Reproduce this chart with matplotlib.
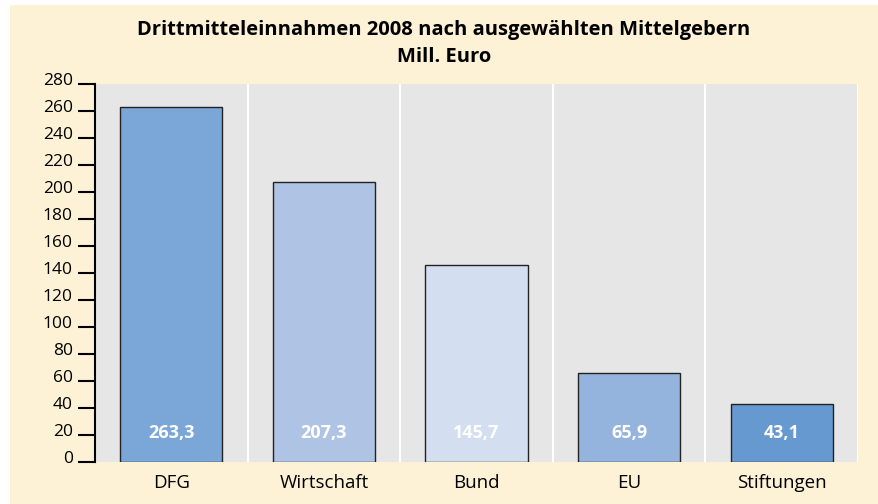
import matplotlib
matplotlib.use("Agg")
import matplotlib.pyplot as plt
import matplotlib.transforms as mtransforms
from matplotlib.patches import Rectangle

categories = ["DFG", "Wirtschaft", "Bund", "EU", "Stiftungen"]
values = [263.3, 207.3, 145.7, 65.9, 43.1]
value_labels = ["263,3", "207,3", "145,7", "65,9", "43,1"]
bar_colors = ["#7BA6D8", "#AFC4E5", "#D3DFF1", "#95B4DD", "#6699D0"]
yticks = list(range(0, 281, 20))

plt.rcParams['font.family'] = ['Open Sans', 'DejaVu Sans']

W, H = 879, 504
fig = plt.figure(figsize=(W / 100, H / 100), dpi=100, facecolor="#FDF1D6")
fig.patches.append(Rectangle((0, 0), 10 / W, 1, transform=fig.transFigure,
                             facecolor="white", edgecolor="none", zorder=-10))
fig.patches.append(Rectangle((0, 1 - 5 / H), 1, 5 / H, transform=fig.transFigure,
                             facecolor="white", edgecolor="none", zorder=-10))

ax = fig.add_axes([95 / W, (H - 462) / H, 763 / W, (462 - 84) / H])
ax.set_facecolor("#E6E6E6")
x = list(range(len(categories)))
ax.bar(x, values, width=0.67, color=bar_colors, edgecolor="#222222",
       linewidth=1.0, zorder=3)
for i in range(len(categories)):
    ax.axvline(i + 0.5, color="white", linewidth=1.5, zorder=1)
for i, lab in enumerate(value_labels):
    ax.text(i, 21.5, lab, ha="center", va="center", color="white",
            fontsize=13, fontweight="bold", zorder=4)

ax.set_xlim(-0.5, 4.5)
ax.set_ylim(0, 280)
ax.set_yticks(yticks)
ax.set_yticklabels([str(t) for t in yticks], fontsize=12.5)
ax.set_xticks(x)
ax.set_xticklabels(categories, fontsize=13.5)
ax.tick_params(axis="y", length=12, width=1.5, color="black", pad=4)
ax.tick_params(axis="x", length=0, pad=9)
for s in ["top", "right", "bottom"]:
    ax.spines[s].set_visible(False)
ax.spines["left"].set_linewidth(1.5)
ax.spines["left"].set_color("black")

offset = mtransforms.ScaledTranslation(0, 5 / 100, fig.dpi_scale_trans)
for lbl in ax.get_yticklabels():
    lbl.set_transform(lbl.get_transform() + offset)

fig.text(444 / W, 1 - 30 / H, "Drittmitteleinnahmen 2008 nach ausgewählten Mittelgebern",
         ha="center", va="center", fontsize=14.5, fontweight="bold")
fig.text(444 / W, 1 - 57 / H, "Mill. Euro", ha="center", va="center",
         fontsize=14.5, fontweight="bold")

fig.savefig("out.png", dpi=100, facecolor=fig.get_facecolor())
